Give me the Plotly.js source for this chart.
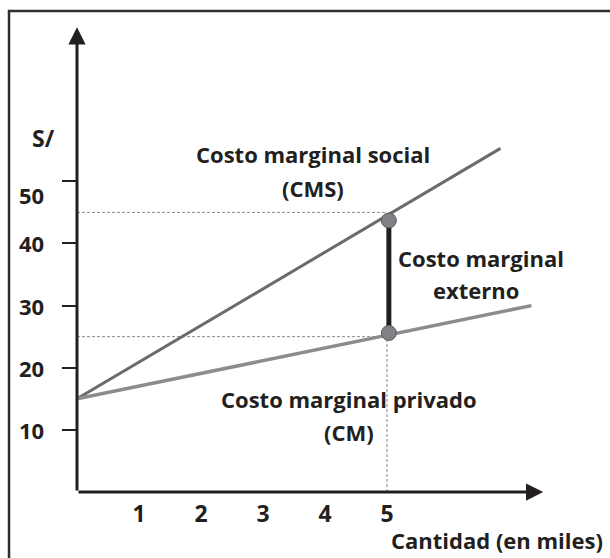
<!DOCTYPE html>
<html>
<head>
<meta charset="utf-8">
<script src="https://cdn.plot.ly/plotly-3.0.1.min.js"></script>
<style>html,body{margin:0;padding:0;background:#fff;}#chart{width:610px;height:558px;}</style>
</head>
<body>
<div id="chart"></div>
<script>
// Data
const cmsX = [0, 6.83];
const cmsY = [15, 55.3];
const cmX = [0, 7.33];
const cmY = [15, 30.0];
const qStar = 5;
const cmsAtQ = 45;
const cmAtQ = 25;
const pointX = [5.03, 5.03];
const pointY = [43.7, 25.6];
const xTickVals = [1, 2, 3, 4, 5];
const xTickText = ['1', '2', '3', '4', '5'];
const yTickVals = [10, 20, 30, 40, 50];
const yTickText = ['10', '20', '30', '40', '50'];
const yTickShift = [0, 0, 0, 0, -14];

const ink = '#231f20';
const fontFam = '"Open Sans", Lato, sans-serif';
const bold = (s) => ({family: fontFam, size: s, color: ink, weight: 'bold'});

const traces = [
  {x: [0, qStar], y: [cmsAtQ, cmsAtQ], mode: 'lines', line: {color: '#8a8a8a', width: 1, dash: '3px,2px'}, hoverinfo: 'skip'},
  {x: [0, qStar], y: [cmAtQ, cmAtQ], mode: 'lines', line: {color: '#8a8a8a', width: 1, dash: '3px,2px'}, hoverinfo: 'skip'},
  {x: [qStar, qStar], y: [0, cmAtQ], mode: 'lines', line: {color: '#8a8a8a', width: 1, dash: '3px,2px'}, hoverinfo: 'skip'},
  {x: cmsX, y: cmsY, mode: 'lines', line: {color: '#6b6b6b', width: 3}, name: 'CMS'},
  {x: cmX, y: cmY, mode: 'lines', line: {color: '#8c8c8c', width: 3.5}, name: 'CM'},
  {x: pointX, y: pointY, mode: 'lines', line: {color: ink, width: 5}, name: 'CME'},
  {x: pointX, y: pointY, mode: 'markers', marker: {size: 15, color: '#808285', line: {color: '#5a5a5c', width: 1}}, name: 'pts'}
];

const annotations = [];
// axis arrows
annotations.push({x: 0, y: 74.8, ax: 0, ay: 0, xref: 'x', yref: 'y', axref: 'x', ayref: 'y', text: '', showarrow: true, arrowhead: 2, arrowsize: 1.15, arrowwidth: 3, arrowcolor: ink, standoff: 0, startstandoff: 0});
annotations.push({x: 7.52, y: 0, ax: 0, ay: 0, xref: 'x', yref: 'y', axref: 'x', ayref: 'y', text: '', showarrow: true, arrowhead: 2, arrowsize: 1.15, arrowwidth: 3, arrowcolor: ink, standoff: 0, startstandoff: 0});
// y tick labels
yTickVals.forEach((v, i) => {
  annotations.push({x: 0, y: v, xref: 'x', yref: 'y', text: yTickText[i], showarrow: false, xanchor: 'right', yanchor: 'middle', xshift: -31, yshift: yTickShift[i], font: bold(22)});
});
const labels = [
  {t: 'Costo marginal social', x: 3.81, y: 54.4, s: 22},
  {t: '(CMS)', x: 3.81, y: 48.9, s: 22},
  {t: 'Costo marginal', x: 6.52, y: 37.7, s: 22},
  {t: 'externo', x: 6.44, y: 32.5, s: 22},
  {t: 'Costo marginal privado', x: 4.39, y: 15.0, s: 22},
  {t: '(CM)', x: 4.39, y: 9.6, s: 22}
];
labels.forEach(l => annotations.push({x: l.x, y: l.y, xref: 'x', yref: 'y', text: l.t, showarrow: false, xanchor: 'center', yanchor: 'middle', font: bold(l.s)}));
annotations.push({x: -0.063, y: 0.76, xref: 'paper', yref: 'paper', text: 'S/', showarrow: false, xanchor: 'center', yanchor: 'middle', font: bold(23)});
annotations.push({x: 0.797, y: -0.103, xref: 'paper', yref: 'paper', text: 'Cantidad (en miles)', showarrow: false, xanchor: 'center', yanchor: 'middle', font: bold(22)});

const layout = {
  width: 610, height: 558,
  margin: {l: 77, r: 6, t: 26, b: 66, pad: 0},
  paper_bgcolor: '#fff', plot_bgcolor: '#fff',
  showlegend: false,
  xaxis: {range: [0, 8.5], showgrid: false, zeroline: false, showline: false,
    tickvals: xTickVals, ticktext: xTickText, ticks: 'outside', ticklen: 1, tickcolor: 'rgba(0,0,0,0)',
    tickfont: bold(23), fixedrange: true},
  yaxis: {range: [0, 75], showgrid: false, zeroline: false, showline: false,
    tickvals: yTickVals, ticks: 'outside', ticklen: 14, tickwidth: 2, tickcolor: ink,
    showticklabels: false, fixedrange: true},
  shapes: [
    {type: 'rect', xref: 'paper', yref: 'paper', x0: -0.129, x1: 1.2, y0: -0.3, y1: 1.032, line: {color: '#2e2e2e', width: 2.5}, fillcolor: 'rgba(0,0,0,0)', layer: 'below'}
  ],
  annotations: annotations
};

Plotly.newPlot('chart', traces, layout, {staticPlot: true, displayModeBar: false});
</script>
</body>
</html>
